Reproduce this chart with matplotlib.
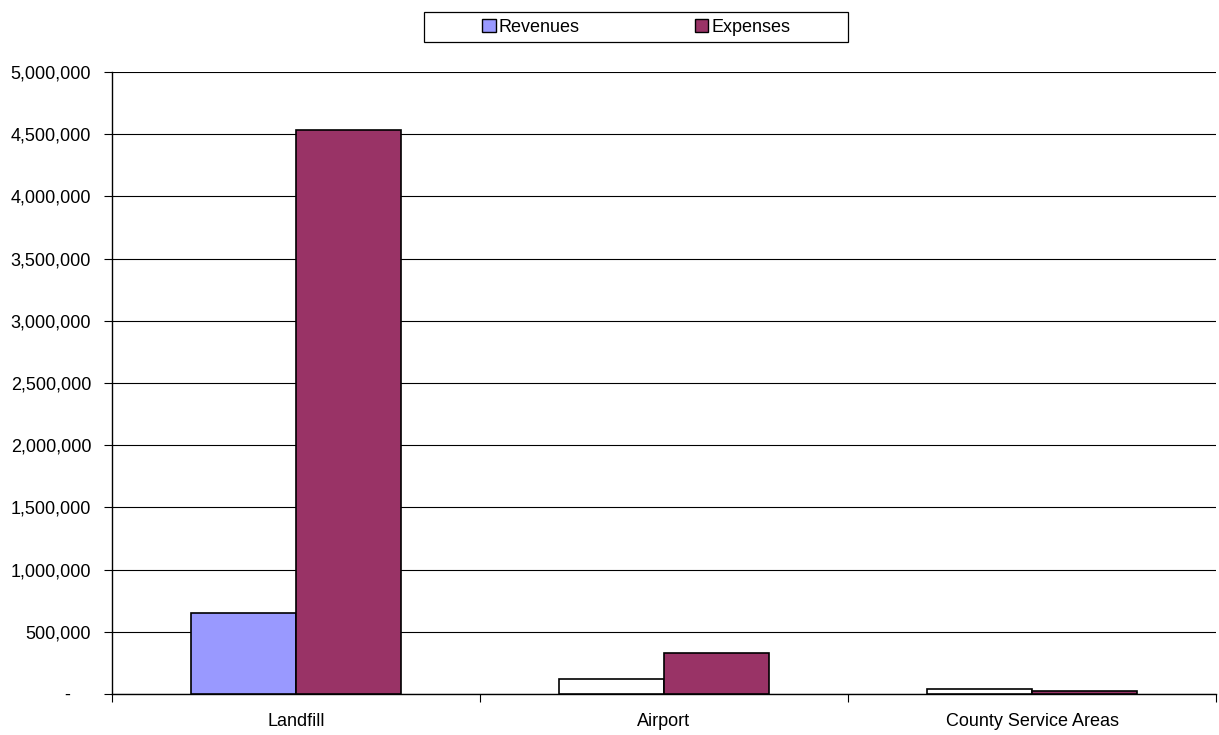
import matplotlib.pyplot as plt
import numpy as np
from matplotlib.ticker import FuncFormatter

categories = ["Landfill", "Airport", "County Service Areas"]
revenues = [650000, 118000, 40000]
expenses = [4535000, 332000, 22000]
revenue_colors = ["#9999ff", "#ffffff", "#ffffff"]
expense_color = "#993366"

plt.rcParams["font.family"] = ["Liberation Sans", "DejaVu Sans"]

fig = plt.figure(figsize=(12.19, 7.35), dpi=100)
ax = fig.add_axes([112 / 1219, 1 - 694 / 735, 1104 / 1219, 622 / 735])

x = np.arange(len(categories))
w = 0.285
ax.bar(x - w / 2, revenues, w, color=revenue_colors, edgecolor="black", linewidth=1.2, zorder=3)
ax.bar(x + w / 2, expenses, w, color=expense_color, edgecolor="black", linewidth=1.2, zorder=3)

ax.set_xlim(-0.5, len(categories) - 0.5)
ax.set_ylim(0, 5000000)
ax.set_yticks(np.arange(0, 5000001, 500000))
# Excel accounting format: zero shows as a dash, padded in from the right
ax.yaxis.set_major_formatter(FuncFormatter(lambda v, p: "-    " if v == 0 else f"{int(v):,}"))
ax.grid(axis="y", color="black", linewidth=0.8, zorder=0)

ax.set_xticks(x)
ax.set_xticklabels(categories)
ax.set_xticks(np.arange(-0.5, len(categories)), minor=True)
ax.tick_params(axis="x", which="major", length=0, pad=14, labelsize=13)
ax.tick_params(axis="x", which="minor", length=6, width=0.8, color="black")
ax.tick_params(axis="y", length=6, width=0.8, labelsize=13, pad=9)

for s in ["top", "right"]:
    ax.spines[s].set_visible(False)
for s in ["left", "bottom"]:
    ax.spines[s].set_color("black")
    ax.spines[s].set_linewidth(1.0)

# legend box
fig.patches.append(plt.Rectangle((424 / 1219, 1 - 42 / 735), 424 / 1219, 30 / 735,
                                 transform=fig.transFigure, facecolor="white",
                                 edgecolor="black", linewidth=0.9))
handles = [
    plt.Rectangle((0, 0), 1, 1, facecolor="#9999ff", edgecolor="black", linewidth=1),
    plt.Rectangle((0, 0), 1, 1, facecolor=expense_color, edgecolor="black", linewidth=1),
]
leg = fig.legend(handles, ["Revenues", "Expenses"], loc="center",
                 bbox_to_anchor=(636 / 1219, 1 - 27 / 735), ncol=2,
                 frameon=False, fontsize=13,
                 handlelength=0.75, handleheight=0.75, handletextpad=0.15,
                 columnspacing=6.4, borderpad=0.3)

fig.savefig("out.png", dpi=100)
